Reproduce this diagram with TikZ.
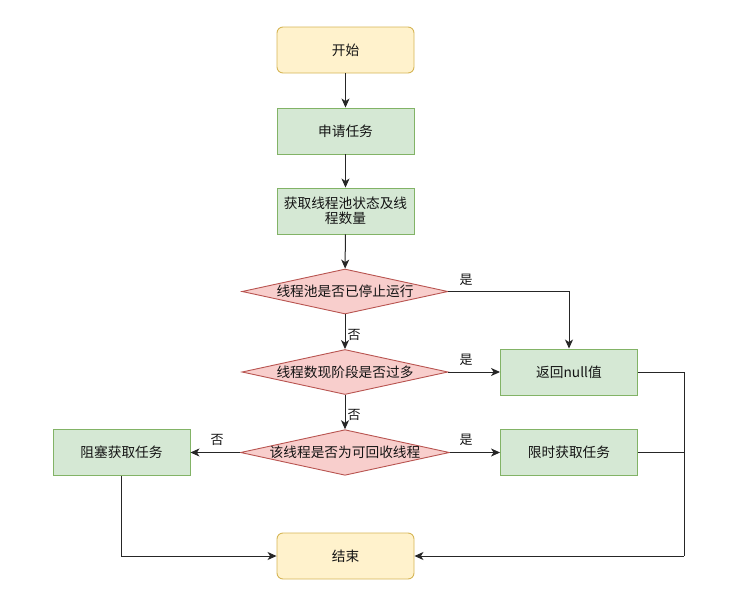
\documentclass[tikz,border=0pt]{standalone}
\usepackage{fontspec}
\setmainfont{Noto Sans CJK SC}
\usetikzlibrary{shapes.geometric,arrows.meta}
\begin{document}
\begin{tikzpicture}[x=1pt,y=-1pt,
  every node/.style={font=\fontsize{13.7}{17}\selectfont, text=black!92},
  term/.style={draw={rgb,255:red,214;green,182;blue,86}, fill={rgb,255:red,255;green,242;blue,204}, rounded corners=6pt, line width=0.9pt, minimum width=137pt, minimum height=46pt, inner sep=2pt},
  proc/.style={draw={rgb,255:red,130;green,179;blue,102}, fill={rgb,255:red,213;green,232;blue,212}, line width=0.9pt, minimum width=137pt, minimum height=46pt, inner sep=2pt, align=center},
  decide/.style={draw={rgb,255:red,184;green,84;blue,80}, fill={rgb,255:red,248;green,206;blue,204}, line width=0.9pt, shape=diamond, aspect=4.58, minimum width=206pt, minimum height=45pt, inner sep=0pt},
  conn/.style={draw=black!85, line width=1pt},
  arr/.style={conn, -{Stealth[length=9pt,width=8pt,inset=2.5pt]}},
  lbl/.style={font=\fontsize{13}{15}\selectfont, inner sep=0pt}
]
\path[use as bounding box] (0,0) rectangle (748,595);
\node[term] (start) at (345.5,50) {开始};
\node[proc] (apply) at (345.5,131) {申请任务};
\node[proc] (get) at (345.5,211) {获取线程池状态及线\\[-2pt]程数量};
\node[decide] (d1) at (345,291.5) {线程池是否已停止运行};
\node[decide] (d2) at (345,372) {线程数现阶段是否过多};
\node[decide] (d3) at (345,452.5) {该线程是否为可回收线程};
\node[proc] (ret) at (569,372) {返回null值};
\node[proc] (timed) at (569,452.5) {限时获取任务};
\node[proc] (block) at (121.5,452.5) {阻塞获取任务};
\node[term] (end) at (345.5,556) {结束};
\coordinate (rj) at (684,372);
\coordinate (tj) at (684,452.5);
\coordinate (bj) at (684,556);

\draw[arr] (start) -- (apply);
\draw[arr] (apply) -- (get);
\draw[arr] (get) -- (d1);
\draw[arr] (d1.east) -| (ret.north);
\draw[arr] (d1) -- (d2);
\draw[arr] (d2) -- (ret);
\draw[arr] (d2) -- (d3);
\draw[arr] (d3) -- (timed);
\draw[arr] (d3) -- (block);
\draw[arr] (block.south) |- (end.west);
\draw[conn] (ret.east) -- (rj) -- (bj);
\draw[arr] (bj) -- (end.east);
\draw[conn] (timed.east) -- (tj);

\node[lbl] (y1) at (466,280) {是};
\node[lbl] (y2) at (466,360) {是};
\node[lbl] (y3) at (466,440) {是};
\node[lbl] (n1) at (354,335) {否};
\node[lbl] (n2) at (354,415) {否};
\node[lbl] (n3) at (217,440) {否};
\end{tikzpicture}
\end{document}
